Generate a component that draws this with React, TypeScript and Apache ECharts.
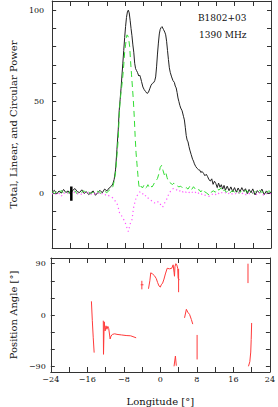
import React, { useEffect, useRef } from "react";
import * as echarts from "echarts";

// ---- Total power (black, solid) ----
const totalLon = [-24, -23.5, -23, -22.5, -22, -21.5, -21, -20.5, -20, -19.5, -19, -18.5, -18, -17.5, -17, -16.5, -16, -15.5, -15, -14.5, -14, -13.5, -13, -12.5, -12, -11.5, -11, -10.7, -10.4, -10.1, -9.8, -9.5, -9.3, -9.1, -8.9, -8.7, -8.5, -8.3, -8.1, -7.9, -7.7, -7.5, -7.3, -7.1, -6.9, -6.7, -6.5, -6.3, -6.1, -5.9, -5.7, -5.5, -5.3, -5.0, -4.8, -4.6, -4.4, -4.1, -3.8, -3.5, -3.2, -2.9, -2.6, -2.3, -2.0, -1.7, -1.5, -1.3, -1.1, -0.9, -0.7, -0.5, -0.3, -0.1, 0.1, 0.4, 0.7, 0.9, 1.1, 1.3, 1.5, 1.7, 1.9, 2.2, 2.5, 2.8, 3.0, 3.2, 3.4, 3.6, 3.8, 4.0, 4.2, 4.5, 4.8, 5.0, 5.2, 5.4, 5.6, 5.8, 6.0, 6.2, 6.5, 6.8, 7.0, 7.2, 7.5, 7.8, 8.1, 8.4, 8.6, 8.9, 9.2, 9.5, 9.8, 10.1, 10.4, 10.7, 11.0, 11.3, 11.6, 11.9, 12.2, 12.5, 12.8, 13.1, 13.4, 13.7, 14.0, 14.4, 14.8, 15.2, 15.6, 16.0, 16.4, 16.8, 17.2, 17.6, 18.0, 18.4, 18.8, 19.2, 19.6, 20.0, 20.5, 21.0, 21.5, 22.0, 22.5, 23.0, 23.5, 24.0];
const totalVal = [0.5, 1.5, -0.5, 1.2, 0, 2, 0.3, 1.2, -0.5, 1.5, 2.5, 0.8, 0.3, 1.8, -0.2, 0.8, -0.8, 0.2, 1.2, -1.2, 0.3, 1.5, 0.2, 2.2, 1.2, 2.8, 3.8, 5, 7.5, 12.7, 23.7, 35, 45, 51, 57, 64, 71, 78, 85, 91, 96, 99, 100, 98.5, 94.5, 90, 86, 81, 77, 71, 68, 67, 66, 64, 64.5, 63, 61, 58, 56.5, 55.5, 54.5, 55, 57, 59, 60, 60.5, 61.5, 63.5, 69, 76, 82, 87, 89.5, 90.5, 91, 89.5, 88, 86.5, 83, 78, 73, 68.5, 66, 63.5, 61.5, 60.5, 58.5, 57.5, 55, 52, 50, 48, 46.5, 45, 42, 40, 36, 31.5, 29, 28, 25.5, 23.5, 21, 18.5, 17.5, 16, 14.5, 13.5, 12.8, 12.5, 11.3, 11.8, 10.8, 9.5, 10.3, 9, 7.3, 6.6, 7.8, 4.8, 6.5, 5.2, 3, 5.5, 3.2, 4.6, 2.2, 4.2, 1.6, 3.8, 1.3, 3.4, 0.8, 3, 0.5, 2.8, 0.7, 3, 1, 2.4, -0.3, 2, 0.2, 2.3, -1, 1.4, 0, 2.2, -0.8, 1.2, -0.2, 0.5];

// ---- Linear polarization (green, dashed) ----
const linLon = [-24, -23.5, -23, -22.5, -22, -21.5, -21, -20.5, -20, -19.5, -19, -18.5, -18, -17.5, -17, -16.5, -16, -15.5, -15, -14.5, -14, -13.5, -13, -12.5, -12, -11.5, -11, -10.7, -10.4, -10.1, -9.8, -9.5, -9.3, -9.1, -8.9, -8.7, -8.5, -8.3, -8.1, -7.9, -7.7, -7.6, -7.4, -7.2, -7.0, -6.8, -6.6, -6.4, -6.2, -6.0, -5.8, -5.6, -5.4, -5.2, -5.0, -4.8, -4.5, -4.2, -3.9, -3.6, -3.3, -3.0, -2.7, -2.4, -2.1, -1.8, -1.5, -1.2, -0.9, -0.6, -0.3, 0.0, 0.3, 0.6, 0.9, 1.2, 1.5, 1.8, 2.1, 2.4, 2.7, 3.0, 3.4, 3.8, 4.2, 4.6, 5.0, 5.4, 5.8, 6.2, 6.6, 7.0, 7.4, 7.8, 8.2, 8.6, 9.0, 9.4, 9.8, 10.2, 10.6, 11.0, 11.4, 11.8, 12.2, 12.6, 13.0, 13.4, 13.8, 14.2, 14.6, 15.0, 15.5, 16.0, 16.5, 17.0, 17.5, 18.0, 18.5, 19.0, 19.5, 20.0, 20.5, 21.0, 21.5, 22.0, 22.5, 23.0, 23.5, 24.0];
const linVal = [0.8, -0.3, 1.2, 0.2, 1.5, -0.2, 0.8, 0, 1, 0.3, 1.2, -0.5, 1, 0.4, 1.3, 0, 0.9, -0.4, 0.6, 0.2, 1.1, -0.2, 0.7, 1, 0.3, 1.5, 2.2, 3.5, 6.5, 11, 20, 30, 42, 50, 55, 59, 64, 70, 77, 81, 85, 86.5, 86, 84, 80, 72, 65, 58, 51, 42, 31, 22, 16, 10, 4.5, 2.5, 3.8, 2.8, 4.2, 2.5, 3.2, 4.6, 3, 4, 3.3, 4.5, 6, 6.8, 8, 10.5, 14, 15.2, 12.5, 10, 11.5, 8.5, 6.3, 5.8, 5.2, 4.7, 5.5, 4.8, 4, 3.4, 3.8, 2.8, 2.4, 3, 2.2, 3.8, 2, 3.5, 2.2, 1.3, 2, 0.6, 2.1, 0.8, 0.2, -0.6, -1.2, 0.8, 1.2, 0.5, 2.5, 1.6, 2.8, 0.8, 1.8, 0.4, 1.5, 0.2, 1.3, 0.6, 1.6, -0.2, 1.2, 0.3, 1.6, 0.4, 1.4, -0.3, 1, 0.2, 1.5, 0.4, 1.2, 0, 1.3, 0.5];

// ---- Circular polarization (magenta, dotted) ----
const circLon = [-24, -23.5, -23, -22.5, -22, -21.5, -21, -20.5, -20, -19.5, -19, -18.5, -18, -17.5, -17, -16.5, -16, -15.5, -15, -14.5, -14, -13.5, -13, -12.5, -12, -11.5, -11, -10.7, -10.4, -10.1, -9.8, -9.5, -9.2, -8.9, -8.6, -8.3, -8.0, -7.7, -7.5, -7.3, -7.1, -6.9, -6.7, -6.5, -6.3, -6.1, -5.8, -5.5, -5.2, -4.9, -4.6, -4.3, -4.0, -3.7, -3.4, -3.1, -2.8, -2.5, -2.2, -1.9, -1.6, -1.3, -1.0, -0.7, -0.4, -0.1, 0.2, 0.5, 0.8, 1.1, 1.4, 1.7, 2.0, 2.3, 2.6, 2.9, 3.2, 3.5, 3.8, 4.1, 4.4, 4.7, 5.0, 5.4, 5.8, 6.2, 6.6, 7.0, 7.4, 7.8, 8.2, 8.6, 9.0, 9.4, 9.8, 10.2, 10.6, 11.0, 11.4, 11.8, 12.2, 12.6, 13.0, 13.5, 14.0, 14.5, 15.0, 15.5, 16.0, 16.5, 17.0, 17.5, 18.0, 18.5, 19.0, 19.5, 20.0, 20.5, 21.0, 21.5, 22.0, 22.5, 23.0, 23.5, 24.0];
const circVal = [-0.5, 0.3, -1, -0.2, -1.8, 0.2, -0.6, 0.4, -0.8, 0, 0.6, -0.4, 0.2, -0.8, 0.4, -0.3, 0.5, -0.6, 0.1, -0.4, 0.3, -0.8, -0.2, -1.2, -0.5, -1.6, -2, -2.7, -3.5, -4.6, -5.5, -8, -11, -12, -13, -14.5, -16, -18, -20, -21, -19, -17, -15.5, -14.6, -11, -7.3, -4.5, -1.8, -0.8, 0.4, 0.9, 0.2, -0.8, -1.8, -1.2, -2.2, -3.2, -3.6, -4.2, -4.8, -5.5, -4.8, -5.2, -4.6, -5.5, -6.8, -7.7, -6.5, -4.6, -3.5, -1.5, 0, 1.2, 2.2, 2.5, 2.7, 2, 1.4, 1.8, 0.9, 1.5, 0.5, 1.2, 0.4, 1, 0, 0.8, -0.2, 0.5, -0.6, 0.2, -0.8, -0.3, -1.2, -1, -1.6, -1.8, -0.8, -0.2, -0.9, 0.4, -0.3, 0.6, -0.4, 0.2, -0.7, 0.4, -0.5, 0.1, -0.8, 0.3, -0.5, 0.2, -0.9, 0, -0.6, 0.3, -0.4, -1, 0.2, -0.5, -1.2, -0.2, -0.8, 0];

// ---- Off-pulse noise bar (black) ----
const noiseBarLon = [-19.8, -19.8];
const noiseBarVal = [3.6, -4.2];

// ---- Position angle segments (red) ----
const paALon = [-15.1, -14.9, -14.7, -14.5];
const paADeg = [24, -10, -40, -66];
const paBLon = [-12.5, -12.45, -12.35, -12.3, -12.1, -11.9, -11.7, -11.5, -11.3, -11.0, -10.8, -10.5, -10.0, -9.5, -8.5, -7.5, -6.5, -5.3];
const paBDeg = [-10, -69, -69, -12, -28, -19, -25, -20, -24, -42, -37, -34, -33, -34, -35, -36, -36.5, -40];
const paC1Lon = [-4.3, -3.7];
const paC1Deg = [53, 53];
const paC1ErrLon = [-4.05, -4.05];
const paC1ErrDeg = [60, 45];
const paC2Lon = [-2.6, -2.3, -2.1, -1.7, -1.3, -0.9, -0.6, -0.3, 0.0, 0.2, 0.5, 0.8, 1.1, 1.5, 2.0, 2.5, 2.8, 3.0, 3.1, 3.2, 3.4, 3.6, 3.8, 3.9, 4.2];
const paC2Deg = [46, 60, 74, 72, 69, 64, 57, 51, 49, 53, 56, 63, 72, 82, 81, 82, 88, 75, 68, 85, 90, 88, 82, 64, 62];
const paC2ErrLon = [4.0, 4.0];
const paC2ErrDeg = [81, 40];
const paDLon = [5.3, 5.7, 6.0, 6.4, 6.8, 7.1];
const paDDeg = [-5, 10, 5, 1, -8, -16];
const paELon = [3.0, 3.3, 3.5];
const paEDeg = [-90, -72, -89];
const paFLon = [8.05, 8.05];
const paFDeg = [-35, -78];
const paGLon = [19.2, 19.2];
const paGDeg = [90, 56];
const paHLon = [19.3, 19.6, 19.8, 19.9, 20.0];
const paHDeg = [-90, -82, -65, -43, -14];

// ---- Axis ticks / labels ----
const xTicks = [-24, -20, -16, -12, -8, -4, 0, 4, 8, 12, 16, 20, 24];
const xLabels = [-24, -16, -8, 0, 8, 16, 24];
const powerTicks = [-30, -20, -10, 0, 10, 20, 30, 40, 50, 60, 70, 80, 90, 100];
const powerLabels = [0, 50, 100];
const paTicks = [-90, -60, -30, 0, 30, 60, 90];
const paLabels = [-90, 0, 90];

const zip = (xs: number[], ys: number[]) => xs.map((x, i) => [x, ys[i]]);
const fmt = (v: number) => (v < 0 ? "\u2212" + Math.abs(v) : String(v));

const FONT = "DejaVu Serif";
const AX = "#333";

export default function App() {
  const ref = useRef<HTMLDivElement>(null);
  useEffect(() => {
    if (!ref.current) return;
    const chart = echarts.init(ref.current, null, { renderer: "svg" });

    const xAxis = (gridIndex: number, position: string, labels: boolean, name?: string) => ({
      type: "value",
      gridIndex,
      position,
      min: -24,
      max: 24,
      interval: 4,
      axisLine: { show: true, onZero: false, lineStyle: { color: AX, width: 1 } },
      axisTick: { show: true, inside: true, length: 5, customValues: xTicks, lineStyle: { color: AX } },
      axisLabel: labels
        ? { show: true, customValues: xLabels, formatter: fmt, fontFamily: FONT, fontSize: 8, color: "#111", margin: 3 }
        : { show: false },
      splitLine: { show: false },
      name: name || "",
      nameLocation: "middle",
      nameGap: 24,
      nameTextStyle: { fontFamily: FONT, fontSize: 10, color: "#111" },
    });
    const yAxis = (
      gridIndex: number,
      position: string,
      min: number,
      max: number,
      interval: number,
      ticks: number[],
      labels: number[] | null,
      name: string,
      margin: number
    ) => ({
      type: "value",
      gridIndex,
      position,
      min,
      max,
      interval,
      axisLine: { show: true, onZero: false, lineStyle: { color: AX, width: 1 } },
      axisTick: { show: true, inside: true, length: 4, customValues: ticks, lineStyle: { color: AX } },
      axisLabel: labels
        ? { show: true, customValues: labels, formatter: fmt, fontFamily: FONT, fontSize: 8, color: "#111", margin }
        : { show: false },
      splitLine: { show: false },
      name,
      nameLocation: "middle",
      nameGap: 17,
      nameTextStyle: { fontFamily: FONT, fontSize: 10, color: "#111" },
    });

    const red = (lon: number[], deg: number[]) => ({
      type: "line",
      xAxisIndex: 2,
      yAxisIndex: 2,
      data: zip(lon, deg),
      showSymbol: false,
      lineStyle: { color: "#ff3a3a", width: 1 },
    });

    chart.setOption({
      animation: false,
      grid: [
        { left: 30, right: 7, top: 1, height: 247 },
        { left: 30, right: 7, top: 258, height: 114 },
      ],
      xAxis: [
        xAxis(0, "bottom", false),
        xAxis(0, "top", false),
        xAxis(1, "bottom", true, "Longitude [\u00b0]"),
        xAxis(1, "top", false),
      ],
      yAxis: [
        yAxis(0, "left", -30, 105, 10, powerTicks, powerLabels, "Total, Linear, and Circular Power", 8),
        yAxis(0, "right", -30, 105, 10, powerTicks, null, "", 8),
        yAxis(1, "left", -100, 100, 10, paTicks, paLabels, "Position Angle [\u00b0]", 5),
        yAxis(1, "right", -100, 100, 10, paTicks, null, "", 5),
      ],
      series: [
        {
          type: "line",
          xAxisIndex: 0,
          yAxisIndex: 0,
          data: zip(totalLon, totalVal),
          showSymbol: false,
          lineStyle: { color: "#222", width: 1 },
        },
        {
          type: "line",
          xAxisIndex: 0,
          yAxisIndex: 0,
          data: zip(linLon, linVal),
          showSymbol: false,
          lineStyle: { color: "#33dd33", width: 1, type: [6, 4] },
        },
        {
          type: "line",
          xAxisIndex: 0,
          yAxisIndex: 0,
          data: zip(circLon, circVal),
          showSymbol: false,
          lineStyle: { color: "#ff55ff", width: 1.2, type: [1.2, 3] },
        },
        {
          type: "line",
          xAxisIndex: 0,
          yAxisIndex: 0,
          data: zip(noiseBarLon, noiseBarVal),
          showSymbol: false,
          lineStyle: { color: "#000", width: 2.5 },
        },
        red(paALon, paADeg),
        red(paBLon, paBDeg),
        red(paC1Lon, paC1Deg),
        red(paC1ErrLon, paC1ErrDeg),
        red(paC2Lon, paC2Deg),
        red(paC2ErrLon, paC2ErrDeg),
        red(paDLon, paDDeg),
        red(paELon, paEDeg),
        red(paFLon, paFDeg),
        red(paGLon, paGDeg),
        red(paHLon, paHDeg),
      ],
      graphic: [
        { type: "text", left: 198, top: 13, style: { text: "B1802+03", font: `9px "${FONT}"`, fill: "#111" } },
        { type: "text", left: 199, top: 30, style: { text: "1390 MHz", font: `9px "${FONT}"`, fill: "#111" } },
      ],
    });
    return () => chart.dispose();
  }, []);
  return <div ref={ref} style={{ width: 278, height: 407, position: "absolute", left: 0, top: 0 }} />;
}
